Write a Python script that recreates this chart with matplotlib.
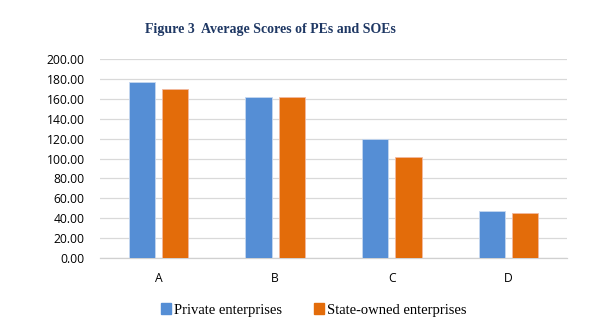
import numpy as np
import matplotlib.pyplot as plt
from matplotlib.patches import Patch

# Average scores by category
categories = ['A', 'B', 'C', 'D']
private = [177.3, 162.3, 119.5, 47.6]
state_owned = [170.3, 162.2, 101.3, 45.6]
series_names = ['Private enterprises', 'State-owned enterprises']
yticks = np.arange(0, 201, 20)

blue = '#558ED5'
orange = '#E36C0A'

fig = plt.figure(figsize=(6.03, 3.33), dpi=100)
ax = fig.add_axes([100 / 603, 1 - 258 / 333, 467 / 603, 199 / 333])

x = np.arange(len(categories))
w = 0.225
ax.bar(x - 0.142, private, width=w, color=blue, edgecolor='#C5D7F0', linewidth=0.6, zorder=3)
ax.bar(x + 0.142, state_owned, width=w, color=orange, edgecolor='#F2B9A0', linewidth=0.6, zorder=3)

ax.set_xlim(-0.5, 3.5)
ax.set_ylim(0, 200)
ax.set_yticks(yticks)
ax.set_yticklabels([f'{v:.2f}' for v in yticks], fontsize=8.7, family='Open Sans')
ax.set_xticks(x)
ax.set_xticklabels(categories, fontsize=8.7, family='Open Sans')
ax.tick_params(axis='y', length=0, pad=11)
ax.tick_params(axis='x', length=0, pad=10)
ax.grid(axis='y', color='#D9D9D9', linewidth=0.9, zorder=0)
for side in ['top', 'right', 'left']:
    ax.spines[side].set_visible(False)
ax.spines['bottom'].set_color('#D0D0D0')
ax.spines['bottom'].set_linewidth(0.9)

fig.text(0.448, 1 - 30 / 333, 'Figure 3  Average Scores of PEs and SOEs', ha='center', va='center',
         fontsize=10, fontweight='bold', family='Liberation Serif', color='#1F3864')

handles = [Patch(color=blue), Patch(color=orange)]
fig.legend(handles, series_names, loc='center', bbox_to_anchor=(0.52, 1 - 310 / 333), ncol=2,
           frameon=False, prop={'family': 'Liberation Serif', 'size': 10.5},
           handlelength=0.7, handleheight=0.7, handletextpad=0.2, columnspacing=2.2)

fig.savefig('out.png', dpi=100)
